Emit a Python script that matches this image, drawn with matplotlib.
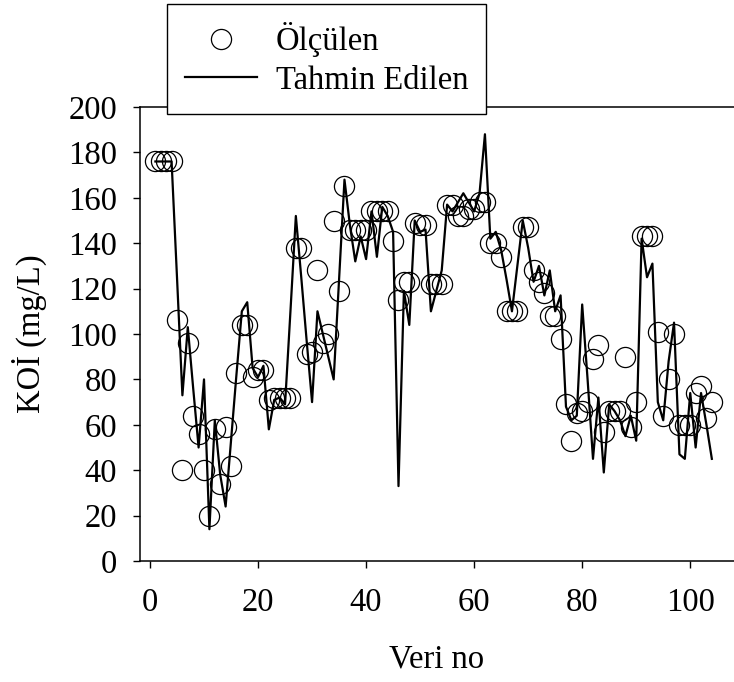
import matplotlib
matplotlib.use("Agg")
import matplotlib.pyplot as plt
import numpy as np

plt.rcParams['font.family'] = ['Liberation Serif', 'DejaVu Serif']

veri_no = np.arange(1, 105)

olculen = [
    176, 176, 176, 176, 106, 40, 96, 64, 56, 40,
    20, 58, 34, 59, 42, 83, 104, 104, 81, 84,
    84, 71, 72, 72, 72, 72, 138, 138, 91, 92,
    128, 96, 100, 150, 119, 165, 146, 146, 146, 146,
    154, 154, 154, 154, 141, 115, 123, 123, 149, 148,
    148, 122, 122, 122, 157, 157, 152, 152, 155, 155,
    158, 158, 140, 140, 134, 110, 110, 110, 147, 147,
    128, 123, 118, 108, 108, 98, 69, 53, 65, 66,
    70, 89, 95, 57, 66, 66, 66, 90, 59, 70,
    143, 143, 143, 101, 64, 80, 100, 60, 60, 60,
    74, 77, 63, 70,
]

tahmin = [
    176, 176, 176, 176, 125, 73, 103, 76, 50, 80,
    14, 62, 38, 24, 53, 82, 110, 114, 85, 81,
    86, 58, 71, 72, 69, 110, 152, 125, 97, 70,
    110, 100, 90, 80, 124, 168, 148, 132, 143, 133,
    154, 134, 156, 152, 145, 33, 119, 104, 150, 145,
    146, 110, 119, 128, 157, 154, 158, 162, 158, 154,
    162, 188, 142, 145, 137, 124, 110, 130, 150, 138,
    123, 130, 117, 128, 110, 117, 68, 62, 64, 113,
    80, 45, 72, 39, 69, 66, 62, 55, 64, 53,
    142, 125, 131, 70, 62, 88, 105, 47, 45, 74,
    50, 74, 60, 45,
]

FS = 23.5
W, H = 734, 682
fig = plt.figure(figsize=(W / 100, H / 100), dpi=100)
ax = fig.add_axes([139.5 / W, 1 - 561 / H, (W - 139.5) / W, (561 - 107) / H])

ax.plot(veri_no, olculen, linestyle='none', marker='o', markersize=14.5,
        markerfacecolor='none', markeredgecolor='black', markeredgewidth=0.9,
        label='Ölçülen')
ax.plot(veri_no, tahmin, color='black', linewidth=1.6, label='Tahmin Edilen')

ax.set_xlim(-1.94, 108.1)
ax.set_ylim(0, 200)
ax.set_xticks([0, 20, 40, 60, 80, 100])
ax.set_yticks(np.arange(0, 201, 20))
ax.spines['right'].set_visible(False)
for s in ['left', 'bottom', 'top']:
    ax.spines[s].set_linewidth(1.1)
ax.tick_params(direction='out', length=5, width=1, labelsize=FS,
               top=False, right=False)
ax.tick_params(axis='y', pad=11)
ax.tick_params(axis='x', pad=14)

ax.set_xlabel('Veri no', fontsize=FS, labelpad=19)
ax.set_ylabel('KOİ (mg/L)', fontsize=FS, labelpad=15)

leg = fig.legend(loc='upper left', bbox_to_anchor=(167 / W, 1 - 4 / H),
                 fontsize=FS, frameon=True, fancybox=False, edgecolor='black',
                 framealpha=1, borderaxespad=0, handlelength=2.2,
                 borderpad=0.55, labelspacing=0.25, handletextpad=0.58)
leg.get_frame().set_linewidth(1.0)

fig.savefig('out.png', dpi=100)
